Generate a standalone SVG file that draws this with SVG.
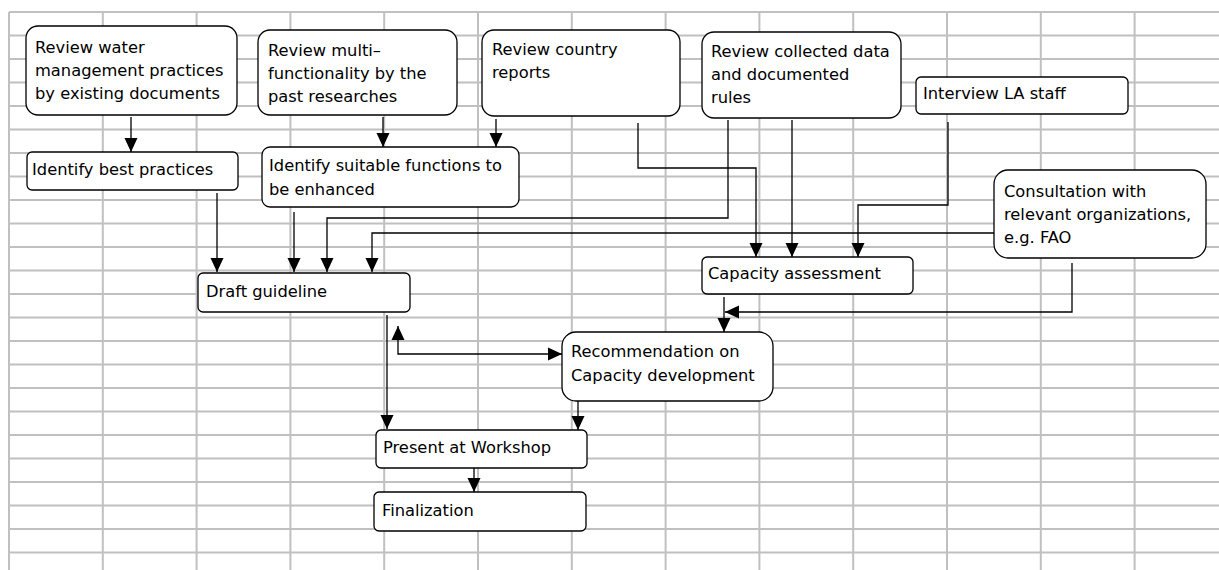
<svg xmlns="http://www.w3.org/2000/svg" width="1219" height="570" viewBox="0 0 1219 570">
<style>
.grid line{stroke:#c0c0c0;stroke-width:2}
.box{fill:#fff;stroke:#000;stroke-width:1.3}
.t{font-family:"DejaVu Sans",sans-serif;font-size:16.3px;fill:#000}
.c{fill:none;stroke:#000;stroke-width:1.3}
</style>
<defs>
<marker id="ah" viewBox="0 0 14 14" refX="14" refY="7" markerWidth="14" markerHeight="14" markerUnits="userSpaceOnUse" orient="auto-start-reverse">
<path d="M0,0.5 L14,7 L0,13.5 z" fill="#000"/>
</marker>
</defs>
<rect width="1219" height="570" fill="#fff"/>
<g class="grid">
<line x1="9" y1="12" x2="9" y2="570"/>
<line x1="102.8" y1="12" x2="102.8" y2="570"/>
<line x1="196.6" y1="12" x2="196.6" y2="570"/>
<line x1="290.4" y1="12" x2="290.4" y2="570"/>
<line x1="384.2" y1="12" x2="384.2" y2="570"/>
<line x1="478" y1="12" x2="478" y2="570"/>
<line x1="571.8" y1="12" x2="571.8" y2="570"/>
<line x1="665.6" y1="12" x2="665.6" y2="570"/>
<line x1="759.4" y1="12" x2="759.4" y2="570"/>
<line x1="853.2" y1="12" x2="853.2" y2="570"/>
<line x1="947" y1="12" x2="947" y2="570"/>
<line x1="1040.8" y1="12" x2="1040.8" y2="570"/>
<line x1="1134.6" y1="12" x2="1134.6" y2="570"/>
<line x1="9" y1="12" x2="1219" y2="12"/>
<line x1="9" y1="35.5" x2="1219" y2="35.5"/>
<line x1="9" y1="59" x2="1219" y2="59"/>
<line x1="9" y1="82.5" x2="1219" y2="82.5"/>
<line x1="9" y1="106" x2="1219" y2="106"/>
<line x1="9" y1="129.5" x2="1219" y2="129.5"/>
<line x1="9" y1="153" x2="1219" y2="153"/>
<line x1="9" y1="176.5" x2="1219" y2="176.5"/>
<line x1="9" y1="200" x2="1219" y2="200"/>
<line x1="9" y1="223.5" x2="1219" y2="223.5"/>
<line x1="9" y1="247" x2="1219" y2="247"/>
<line x1="9" y1="270.5" x2="1219" y2="270.5"/>
<line x1="9" y1="294" x2="1219" y2="294"/>
<line x1="9" y1="317.5" x2="1219" y2="317.5"/>
<line x1="9" y1="341" x2="1219" y2="341"/>
<line x1="9" y1="364.5" x2="1219" y2="364.5"/>
<line x1="9" y1="388" x2="1219" y2="388"/>
<line x1="9" y1="411.5" x2="1219" y2="411.5"/>
<line x1="9" y1="435" x2="1219" y2="435"/>
<line x1="9" y1="458.5" x2="1219" y2="458.5"/>
<line x1="9" y1="482" x2="1219" y2="482"/>
<line x1="9" y1="505.5" x2="1219" y2="505.5"/>
<line x1="9" y1="529" x2="1219" y2="529"/>
<line x1="9" y1="552.5" x2="1219" y2="552.5"/>
</g>
<g id="n1"><rect class="box" x="26" y="26" width="211" height="89" rx="12"/>
<text class="t" x="35" y="53">Review water</text><text class="t" x="35" y="76">management practices</text><text class="t" x="35" y="99">by existing documents</text></g>
<g id="n2"><rect class="box" x="258" y="30" width="199" height="85" rx="12"/>
<text class="t" x="268" y="56">Review multi–</text><text class="t" x="268" y="79">functionality by the</text><text class="t" x="268" y="102">past researches</text></g>
<g id="n3"><rect class="box" x="482" y="30" width="198" height="86" rx="12"/>
<text class="t" x="492" y="55">Review country</text><text class="t" x="492" y="78">reports</text></g>
<g id="n4"><rect class="box" x="702" y="32" width="199" height="86" rx="12"/>
<text class="t" x="711" y="57">Review collected data</text><text class="t" x="711" y="80">and documented</text><text class="t" x="711" y="103">rules</text></g>
<g id="n5"><rect class="box" x="916" y="77" width="212" height="37" rx="5"/>
<text class="t" x="923" y="99">Interview LA staff</text></g>
<g id="n6"><rect class="box" x="27" y="152" width="211" height="38" rx="5"/>
<text class="t" x="32" y="175">Identify best practices</text></g>
<g id="n7"><rect class="box" x="262" y="147" width="257" height="60" rx="8"/>
<text class="t" x="269" y="171">Identify suitable functions to</text><text class="t" x="269" y="195">be enhanced</text></g>
<g id="n8"><rect class="box" x="994" y="170" width="212" height="88" rx="14"/>
<text class="t" x="1004" y="197">Consultation with</text><text class="t" x="1004" y="220">relevant organizations,</text><text class="t" x="1004" y="243">e.g. FAO</text></g>
<g id="n9"><rect class="box" x="198" y="273" width="212" height="39" rx="5"/>
<text class="t" x="206" y="297">Draft guideline</text></g>
<g id="n10"><rect class="box" x="702" y="257" width="211" height="37" rx="5"/>
<text class="t" x="708" y="279">Capacity assessment</text></g>
<g id="n11"><rect class="box" x="562" y="332" width="211" height="69" rx="14"/>
<text class="t" x="571" y="357">Recommendation on</text><text class="t" x="571" y="381">Capacity development</text></g>
<g id="n12"><rect class="box" x="376" y="430" width="211" height="38" rx="5"/>
<text class="t" x="383" y="453">Present at Workshop</text></g>
<g id="n13"><rect class="box" x="374" y="492" width="212" height="39" rx="5"/>
<text class="t" x="382" y="516">Finalization</text></g>
<g id="connectors">
<path class="c" d="M131,117 V152" marker-end="url(#ah)"/>
<path class="c" d="M383,117 V147" marker-end="url(#ah)"/>
<path class="c" d="M496,119 V147" marker-end="url(#ah)"/>
<path class="c" d="M638,123 V168 H756 V257" marker-end="url(#ah)"/>
<path class="c" d="M728,120 V218 H327 V272" marker-end="url(#ah)"/>
<path class="c" d="M792,120 V257" marker-end="url(#ah)"/>
<path class="c" d="M948,122 V205 H858 V257" marker-end="url(#ah)"/>
<path class="c" d="M994,233 H372 V272" marker-end="url(#ah)"/>
<path class="c" d="M217,193 V272" marker-end="url(#ah)"/>
<path class="c" d="M294,212 V272" marker-end="url(#ah)"/>
<path class="c" d="M387,315 V429" marker-end="url(#ah)"/>
<path class="c" d="M398,326 V354 H562" marker-start="url(#ah)" marker-end="url(#ah)"/>
<path class="c" d="M724,297 V332" marker-end="url(#ah)"/>
<path class="c" d="M1072,263 V312 H725" marker-end="url(#ah)"/>
<path class="c" d="M578,401 V430" marker-end="url(#ah)"/>
<path class="c" d="M474,468 V492" marker-end="url(#ah)"/>
</g>
</svg>
